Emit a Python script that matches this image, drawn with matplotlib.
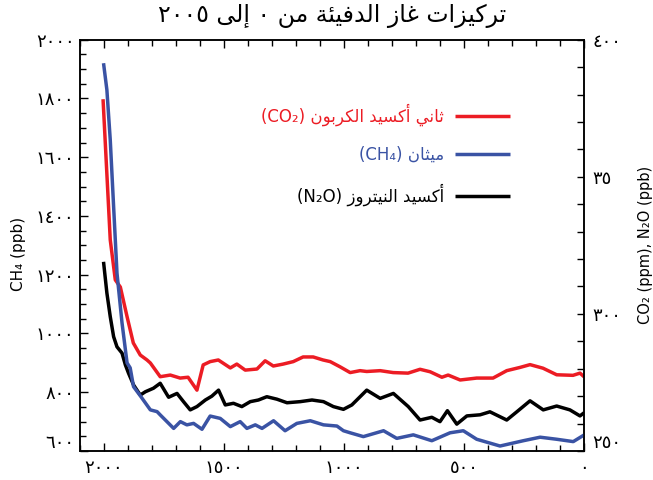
import re
import matplotlib
matplotlib.use("Agg")
import matplotlib.pyplot as plt
from matplotlib.ticker import MultipleLocator
from matplotlib.transforms import ScaledTranslation

# ---- data (year -> concentration) ----
co2_years = [2004, 1974, 1953, 1932, 1904, 1878, 1849, 1821, 1807, 1766, 1724, 1683,
             1650, 1613, 1587, 1558, 1524, 1474, 1447, 1412, 1363, 1329, 1295, 1254,
             1212, 1171, 1129, 1088, 1058, 1017, 975, 934, 906, 850, 796, 734, 684,
             642, 593, 567, 517, 448, 380, 323, 267, 226, 172, 115, 47, 18, 0]
co2_ppm = [378.3, 327.0, 312.4, 309.8, 299.0, 289.4, 285.0, 283.2, 282.1, 277.1, 277.7,
           276.6, 276.9, 272.2, 281.4, 282.6, 283.2, 280.3, 281.7, 279.5, 279.9, 282.9,
           281.0, 281.7, 282.6, 284.3, 284.3, 283.2, 282.6, 280.7, 278.6, 279.3, 279.0,
           279.3, 278.6, 278.4, 279.8, 278.9, 276.9, 277.7, 275.9, 276.6, 276.6, 279.3,
           280.5, 281.5, 280.2, 277.8, 277.6, 278.4, 277.0]

ch4_years = [2002, 1988, 1974, 1960, 1946, 1925, 1904, 1891, 1877, 1849, 1807, 1779,
             1766, 1738, 1710, 1682, 1655, 1627, 1592, 1558, 1516, 1474, 1433, 1405,
             1370, 1342, 1294, 1246, 1197, 1141, 1086, 1030, 1003, 975, 920, 836, 781,
             712, 635, 559, 504, 448, 351, 254, 184, 115, 46, 0]
ch4_ppb = [1920, 1829, 1659, 1432, 1206, 1036, 900, 883, 819, 788, 740, 734, 723, 700,
           677, 700, 689, 694, 674, 719, 711, 683, 700, 677, 689, 677, 703, 669, 694,
           703, 689, 685, 669, 662, 649, 669, 643, 655, 635, 662, 669, 640, 617, 635,
           647, 640, 632, 655]

n2o_years = [2002, 1988, 1974, 1960, 1946, 1925, 1911, 1898, 1877, 1849, 1828, 1794,
             1766, 1731, 1696, 1669, 1641, 1613, 1578, 1551, 1523, 1495, 1461, 1426,
             1391, 1357, 1322, 1280, 1238, 1183, 1134, 1086, 1045, 1003, 968, 906, 850,
             795, 733, 684, 635, 601, 570, 531, 489, 434, 393, 323, 281, 226, 171, 115,
             60, 18, 0]
n2o_ppb = [319.0, 307.6, 299.0, 291.7, 288.0, 285.7, 281.4, 278.4, 274.1, 270.4, 271.6,
           272.9, 274.7, 269.6, 271.0, 268.0, 265.0, 266.2, 268.6, 270.0, 272.2, 266.8,
           267.4, 266.2, 268.0, 268.6, 269.8, 268.9, 267.6, 268.0, 268.6, 268.0, 266.2,
           265.2, 266.8, 272.2, 269.2, 271.0, 266.2, 261.3, 262.3, 260.7, 264.7, 259.8,
           262.8, 263.2, 264.3, 261.3, 264.3, 268.3, 265.0, 266.4, 265.0, 262.8, 264.0]

x_ticks = [2000, 1500, 1000, 500, 0]
x_tick_labels = ['٢٠٠٠', '١٥٠٠', '١٠٠٠', '٥٠٠', '٠']
left_ticks = [600, 800, 1000, 1200, 1400, 1600, 1800, 2000]
left_tick_labels = ['٦٠٠', '٨٠٠', '١٠٠٠', '١٢٠٠', '١٤٠٠', '١٦٠٠', '١٨٠٠', '٢٠٠٠']
right_ticks = [250, 300, 350, 400]
right_tick_labels = ['٢٥٠', '٣٠٠', '٣٥', '٤٠٠']

title_text = 'تركيزات غاز الدفيئة من ٠ إلى ٢٠٠٥'
legend_labels = ['ثاني أكسيد الكربون (CO₂)', 'ميثان (CH₄)', 'أكسيد النيتروز (N₂O)']

# ---- minimal Arabic shaping (matplotlib has no complex text layout) ----
# forms: isolated, final, initial, medial
FORMS = {
    'ء': ('ﺀ',),
    'أ': ('ﺃ', 'ﺄ'), 'إ': ('ﺇ', 'ﺈ'), 'ا': ('ﺍ', 'ﺎ'),
    'ئ': ('ﺉ', 'ﺊ', 'ﺋ', 'ﺌ'),
    'ب': ('ﺏ', 'ﺐ', 'ﺑ', 'ﺒ'), 'ة': ('ﺓ', 'ﺔ'),
    'ت': ('ﺕ', 'ﺖ', 'ﺗ', 'ﺘ'), 'ث': ('ﺙ', 'ﺚ', 'ﺛ', 'ﺜ'),
    'د': ('ﺩ', 'ﺪ'), 'ر': ('ﺭ', 'ﺮ'), 'ز': ('ﺯ', 'ﺰ'),
    'س': ('ﺱ', 'ﺲ', 'ﺳ', 'ﺴ'), 'غ': ('ﻍ', 'ﻎ', 'ﻏ', 'ﻐ'),
    'ف': ('ﻑ', 'ﻒ', 'ﻓ', 'ﻔ'), 'ك': ('ﻙ', 'ﻚ', 'ﻛ', 'ﻜ'),
    'ل': ('ﻝ', 'ﻞ', 'ﻟ', 'ﻠ'), 'م': ('ﻡ', 'ﻢ', 'ﻣ', 'ﻤ'),
    'ن': ('ﻥ', 'ﻦ', 'ﻧ', 'ﻨ'), 'و': ('ﻭ', 'ﻮ'), 'ى': ('ﻯ', 'ﻰ'),
    'ي': ('ﻱ', 'ﻲ', 'ﻳ', 'ﻴ'),
}
LAM_ALEF = {'ا': ('ﻻ', 'ﻼ'), 'أ': ('ﻷ', 'ﻸ'), 'إ': ('ﻹ', 'ﻺ')}
LTR = r'A-Za-z0-9\u0660-\u0669\u2080-\u2089'


def arabic(s):
    out = []
    i = 0
    while i < len(s):
        ch = s[i]
        if ch not in FORMS:
            out.append(ch)
            i += 1
            continue
        prev = s[i - 1] if i > 0 else ''
        joins_prev = prev in FORMS and len(FORMS[prev]) == 4
        nxt = s[i + 1] if i + 1 < len(s) else ''
        if ch == 'ل' and nxt in LAM_ALEF:
            out.append(LAM_ALEF[nxt][1 if joins_prev else 0])
            i += 2
            continue
        forms = FORMS[ch]
        joins_next = len(forms) == 4 and nxt in FORMS
        if joins_prev and joins_next:
            out.append(forms[3])
        elif joins_prev:
            out.append(forms[1])
        elif joins_next:
            out.append(forms[2])
        else:
            out.append(forms[0])
        i += 1
    # visual order: right-to-left, but keep latin/digit runs as they are
    runs = re.findall('[' + LTR + ']+|[^' + LTR + ']', ''.join(out))
    mirror = {'(': ')', ')': '('}
    return ''.join(mirror.get(r, r) for r in reversed(runs))


red = '#ec1c24'
blue = '#3a53a4'
black = '#000000'

fig = plt.figure(figsize=(6.53, 4.8), dpi=100)
ax = fig.add_axes([0.1225, 0.0604, 0.7723, 0.8569])
ax2 = ax.twinx()

style = dict(lw=2.5, solid_capstyle='butt', solid_joinstyle='round')
l_co2, = ax2.plot(co2_years, co2_ppm, color=red, **style)
l_n2o, = ax2.plot(n2o_years, n2o_ppb, color=black, **style)
l_ch4, = ax.plot(ch4_years, ch4_ppb, color=blue, **style)

# methane on top of the other two
ax.set_zorder(ax2.get_zorder() + 1)
ax.patch.set_visible(False)

ax.set_xlim(2100, 0)
ax.set_ylim(600, 2000)
ax2.set_ylim(250, 400)

ax.set_xticks(x_ticks, x_tick_labels)
ax.xaxis.set_minor_locator(MultipleLocator(100))
ax.set_yticks(left_ticks, left_tick_labels)
ax.yaxis.set_minor_locator(MultipleLocator(50))
ax2.set_yticks(right_ticks, right_tick_labels)
ax2.yaxis.set_minor_locator(MultipleLocator(10))

ax.tick_params(axis='x', which='both', direction='in', top=True, bottom=True,
               labelsize=13, pad=6)
ax.tick_params(axis='x', which='major', length=6, width=1)
ax.tick_params(axis='x', which='minor', length=4.5, width=1)
ax.tick_params(axis='y', which='both', direction='in', left=True, right=False,
               labelsize=13, pad=4)
ax.tick_params(axis='y', which='major', length=6, width=1)
ax.tick_params(axis='y', which='minor', length=4.5, width=1)
ax2.tick_params(axis='y', which='both', direction='in', labelsize=13, pad=6,
                length=5, width=1)
for sp in list(ax.spines.values()) + list(ax2.spines.values()):
    sp.set_linewidth(1.1)

ax.set_ylabel('CH₄ (ppb)', fontsize=11)
ax.yaxis.set_label_coords(-0.108, 0.48)
ax2.set_ylabel('CO₂ (ppm), N₂O (ppb)', fontsize=10.5)
ax2.yaxis.set_label_coords(1.106, 0.50)

ax.set_title(arabic(title_text), fontsize=17, pad=13)

leg = ax.legend([l_co2, l_ch4, l_n2o], [arabic(t) for t in legend_labels],
                loc='upper right', bbox_to_anchor=(0.853, 0.845), frameon=False,
                markerfirst=False, fontsize=12, handlelength=3.3,
                handletextpad=0.65, labelspacing=1.2, borderpad=0,
                borderaxespad=0, labelcolor='linecolor')

# the bottom labels sit a little above their ticks in the reference
lift = ScaledTranslation(0, 0.1, fig.dpi_scale_trans)
lab = ax.yaxis.get_major_ticks()[0].label1
lab.set_transform(lab.get_transform() + lift)
lab = ax2.yaxis.get_major_ticks()[0].label2
lab.set_transform(lab.get_transform() + lift)

fig.savefig('out.png', dpi=100)
